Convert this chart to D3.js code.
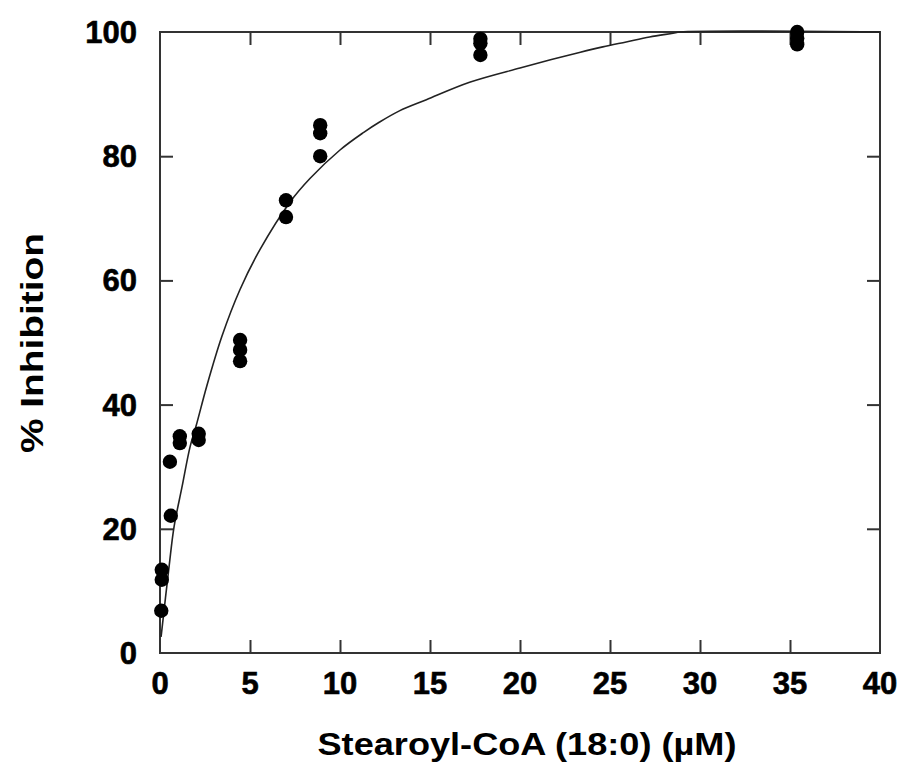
<!DOCTYPE html>
<html>
<head>
<meta charset="utf-8">
<script src="https://cdn.jsdelivr.net/npm/d3@7"></script>
<style>
  html, body { margin: 0; padding: 0; background: #ffffff; }
  svg { display: block; }
  text { font-family: "Liberation Sans", Arial, sans-serif; font-weight: bold; fill: #000; }
</style>
</head>
<body>
<svg id="chart" width="904" height="768"></svg>
<script>
// Stearoyl-CoA concentration (µM) and measured % inhibition, replicate points
const pointX = [0.07, 0.1, 0.1, 0.55, 0.6, 1.1, 1.1, 2.15, 2.15,
                4.45, 4.45, 4.45, 7.0, 7.0, 8.9, 8.9, 8.9,
                17.8, 17.8, 17.8, 35.4, 35.4, 35.4];
const pointY = [6.8, 13.4, 11.8, 30.8, 22.1, 34.9, 33.8, 35.3, 34.3,
                50.4, 48.8, 47.0, 72.9, 70.2, 85.0, 83.7, 80.0,
                98.9, 98.2, 96.3, 100, 99.0, 98.0];

// Fitted inhibition curve, sampled along the concentration axis
const curveX = [0.06, 0.5, 0.78, 1.22, 1.67, 2.0, 2.6, 3.44, 4.44, 5.56,
                7.22, 8.33, 10.0, 11.3, 12.2, 13.3, 14.8, 17.2, 20.0,
                21.8, 23.3, 24.6, 25.9, 27.2, 28.5, 28.9, 40];
const curveY = [2.6, 13.8, 20.3, 26.7, 33.2, 36.5, 43.0, 51.0, 58.5, 65.0,
                72.6, 76.4, 81.0, 83.8, 85.5, 87.3, 89.1, 91.9, 94.2,
                95.6, 96.7, 97.6, 98.4, 99.2, 99.8, 100, 100];

const xTicks = [0, 5, 10, 15, 20, 25, 30, 35, 40];
const yTicks = [0, 20, 40, 60, 80, 100];
const xTitle = "Stearoyl-CoA (18:0) (µM)";
const yTitle = "% Inhibition";

const svg = d3.select("#chart");
const plotLeft = 160, plotRight = 880, plotTop = 32, plotBottom = 653;

const x = d3.scaleLinear().domain([0, 40]).range([plotLeft, plotRight]);
const y = d3.scaleLinear().domain([0, 100]).range([plotBottom, plotTop]);

const frameColor = "#333";
const tickLen = 13;

// Inward ticks on all four sides
const innerTicksX = xTicks.filter(v => v > 0 && v < 40);
const innerTicksY = yTicks.filter(v => v > 0 && v < 100);

const axB = d3.axisBottom(x).tickValues(innerTicksX).tickSizeInner(-tickLen).tickSizeOuter(0).tickFormat("");
const axT = d3.axisTop(x).tickValues(innerTicksX).tickSizeInner(-tickLen).tickSizeOuter(0).tickFormat("");
const axL = d3.axisLeft(y).tickValues(innerTicksY).tickSizeInner(-tickLen).tickSizeOuter(0).tickFormat("");
const axR = d3.axisRight(y).tickValues(innerTicksY).tickSizeInner(-tickLen).tickSizeOuter(0).tickFormat("");

function styleAxis(g) {
  g.select(".domain").remove();
  g.selectAll(".tick line").attr("stroke", frameColor).attr("stroke-width", 2);
}
svg.append("g").attr("transform", `translate(0,${plotBottom})`).call(axB).call(styleAxis);
svg.append("g").attr("transform", `translate(0,${plotTop})`).call(axT).call(styleAxis);
svg.append("g").attr("transform", `translate(${plotLeft},0)`).call(axL).call(styleAxis);
svg.append("g").attr("transform", `translate(${plotRight},0)`).call(axR).call(styleAxis);

// Plot frame
svg.append("rect")
  .attr("x", plotLeft).attr("y", plotTop)
  .attr("width", plotRight - plotLeft).attr("height", plotBottom - plotTop)
  .attr("fill", "none").attr("stroke", frameColor).attr("stroke-width", 2);

// Tick labels (slightly heavier than plain bold)
svg.append("g").selectAll("text").data(xTicks).join("text")
  .attr("x", d => x(d)).attr("y", plotBottom + 41)
  .attr("text-anchor", "middle").attr("font-size", 31)
  .attr("stroke", "#000").attr("stroke-width", 0.6)
  .text(d => d);

svg.append("g").selectAll("text").data(yTicks).join("text")
  .attr("x", plotLeft - 23).attr("y", d => y(d) + 11)
  .attr("text-anchor", "end").attr("font-size", 31)
  .attr("stroke", "#000").attr("stroke-width", 0.6)
  .text(d => d);

// Axis titles
svg.append("text")
  .attr("x", 527).attr("y", 755)
  .attr("text-anchor", "middle").attr("font-size", 32)
  .attr("textLength", 419).attr("lengthAdjust", "spacingAndGlyphs")
  .text(xTitle);

svg.append("text")
  .attr("transform", "translate(43,343) rotate(-90)")
  .attr("text-anchor", "middle").attr("font-size", 32)
  .attr("textLength", 220).attr("lengthAdjust", "spacingAndGlyphs")
  .text(yTitle);

// Fitted curve
const curveData = curveX.map((v, i) => [v, curveY[i]]);
svg.append("path")
  .datum(curveData)
  .attr("fill", "none").attr("stroke", "#222").attr("stroke-width", 1.6)
  .attr("d", d3.line().x(d => x(d[0])).y(d => y(d[1])).curve(d3.curveCatmullRom.alpha(0.5)));

// Data points
const pts = pointX.map((v, i) => [v, pointY[i]]);
svg.append("g").selectAll("circle").data(pts).join("circle")
  .attr("cx", d => x(d[0])).attr("cy", d => y(d[1]))
  .attr("r", 7.2).attr("fill", "#000");
</script>
</body>
</html>
